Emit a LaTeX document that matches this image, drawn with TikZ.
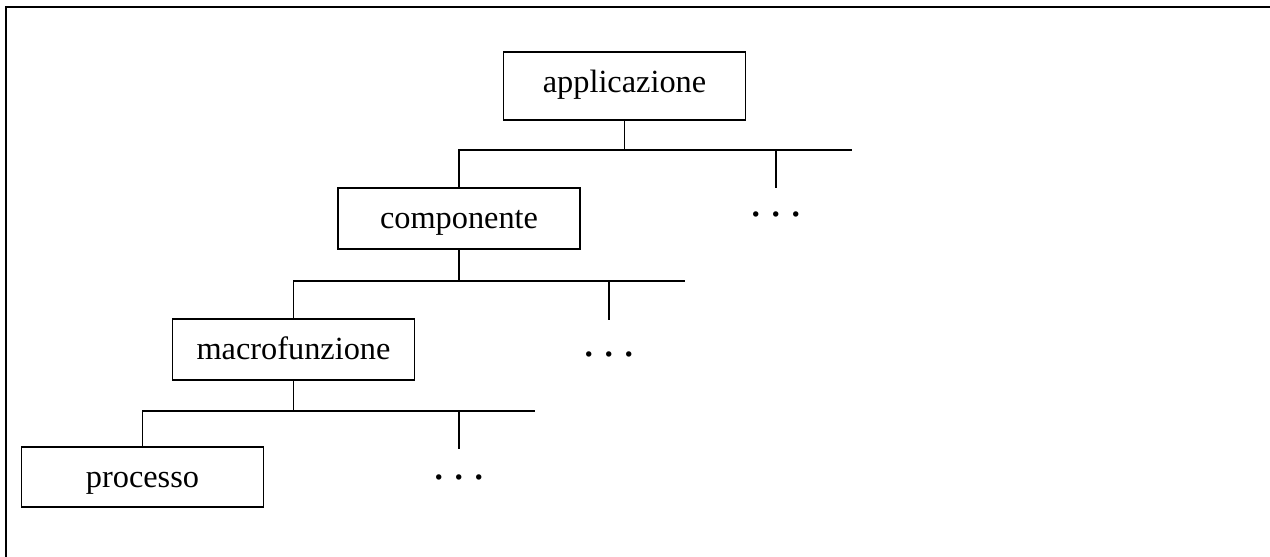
\documentclass[tikz,border=0pt]{standalone}
\usepackage{fontspec}
\setmainfont{Liberation Serif}
\usetikzlibrary{positioning}

\begin{document}
\begin{tikzpicture}[x=0.02cm,y=-0.02cm,
    livello/.style={draw, line width=1pt, minimum width=4.84cm, minimum height=1.22cm,
      inner sep=0pt, text height=0.42cm, text depth=0pt,
      font=\fontsize{18.4}{22}\selectfont},
    puntini/.style={inner sep=0pt, font=\fontsize{26}{30}\selectfont},
    ramo/.style={line width=1pt}]
  \useasboundingbox (0,0) rectangle (1270,557);

  % cornice
  \draw[line width=1.2pt] (6,557) -- (6,7) -- (1270,7);

  % livelli
  \node[livello, minimum height=1.36cm, text height=0.28cm] (app) at (624.5,86) {applicazione};
  \node[livello] (comp) at (459,218.5) {componente};
  \node[livello] (macro) at (293.5,349.5) {macrofunzione};
  \node[livello, minimum height=1.2cm] (proc) at (142.5,477) {processo};

  % altri rami
  \node[puntini] (pt1) at (776,214) {.\hspace{0.17cm}.\hspace{0.17cm}.};
  \node[puntini] (pt2) at (609,354) {.\hspace{0.17cm}.\hspace{0.17cm}.};
  \node[puntini] (pt3) at (459,477) {.\hspace{0.17cm}.\hspace{0.17cm}.};

  % estremi delle linee
  \coordinate (bus1) at (852,150);
  \coordinate (bus2) at (685,281);
  \coordinate (bus3) at (535,411);
  \coordinate (tick1) at (776,188);
  \coordinate (tick2) at (609,320);
  \coordinate (tick3) at (459,449);

  % collegamenti
  \draw[ramo] (app.south) -- (app.south |- bus1);
  \draw[ramo] (comp.north) |- (bus1);
  \draw[ramo] (tick1 |- bus1) -- (tick1);

  \draw[ramo] (comp.south) -- (comp.south |- bus2);
  \draw[ramo] (macro.north) |- (bus2);
  \draw[ramo] (tick2 |- bus2) -- (tick2);

  \draw[ramo] (macro.south) -- (macro.south |- bus3);
  \draw[ramo] (proc.north) |- (bus3);
  \draw[ramo] (tick3 |- bus3) -- (tick3);
\end{tikzpicture}
\end{document}
